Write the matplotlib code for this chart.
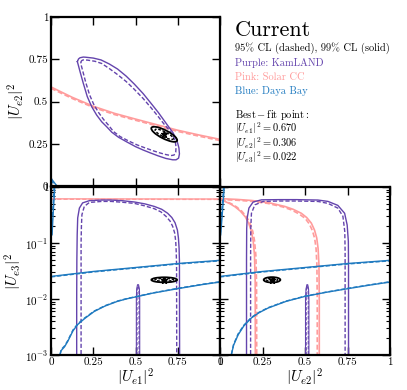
import numpy as np
import matplotlib
matplotlib.use("Agg")
import matplotlib.pyplot as plt
from matplotlib.patches import Ellipse

plt.rcParams['font.family'] = ['cmr10', 'DejaVu Serif']
plt.rcParams['mathtext.fontset'] = 'cm'
plt.rcParams['axes.formatter.use_mathtext'] = True
plt.rcParams['axes.unicode_minus'] = False

PURPLE = '#6444ad'
PINK = '#ff9c9c'
BLUE = '#1f7ac0'

# ---------------- data ----------------
best_fit = {'Ue1': 0.670, 'Ue2': 0.306, 'Ue3': 0.022}

lin_ticks = [0, 0.25, 0.5, 0.75, 1]
lin_ticklabels = ['0', '0.25', '0.5', '0.75', '1']
log_ticks = [1e-3, 1e-2, 1e-1, 1]
log_ticklabels = [r'$10^{-3}$', r'$10^{-2}$', r'$10^{-1}$', '1']

# Top-left panel: |Ue1|^2 vs |Ue2|^2
kl12_99_x = [0.156, 0.163, 0.172, 0.191, 0.205, 0.25, 0.296, 0.345, 0.394, 0.445, 0.493, 0.545, 0.592, 0.635,
             0.671, 0.70, 0.722, 0.745, 0.757, 0.760, 0.755, 0.740, 0.72, 0.68, 0.635, 0.59, 0.545, 0.50,
             0.45, 0.40, 0.36, 0.33, 0.30, 0.27, 0.241, 0.215, 0.191, 0.172, 0.163, 0.156]
kl12_99_y = [0.736, 0.752, 0.759, 0.763, 0.762, 0.757, 0.746, 0.722, 0.692, 0.65, 0.603, 0.547, 0.489, 0.435,
             0.385, 0.345, 0.315, 0.27, 0.225, 0.19, 0.165, 0.155, 0.155, 0.163, 0.178, 0.195, 0.213, 0.233,
             0.26, 0.288, 0.318, 0.35, 0.38, 0.42, 0.469, 0.528, 0.608, 0.676, 0.71, 0.736]
kl12_95_x = [0.176, 0.182, 0.19, 0.215, 0.26, 0.30, 0.345, 0.394, 0.445, 0.493, 0.545, 0.592, 0.635, 0.67,
             0.70, 0.722, 0.735, 0.740, 0.738, 0.728, 0.71, 0.68, 0.64, 0.60, 0.55, 0.51, 0.46, 0.41, 0.37,
             0.34, 0.31, 0.28, 0.252, 0.228, 0.205, 0.188, 0.18, 0.176]
kl12_95_y = [0.733, 0.742, 0.746, 0.745, 0.738, 0.725, 0.695, 0.659, 0.618, 0.572, 0.518, 0.463, 0.41, 0.365,
             0.33, 0.297, 0.265, 0.23, 0.2, 0.183, 0.18, 0.186, 0.197, 0.21, 0.228, 0.243, 0.266, 0.292, 0.322,
             0.36, 0.395, 0.437, 0.485, 0.54, 0.615, 0.68, 0.71, 0.733]
sol12_x = [0, 0.125, 0.25, 0.375, 0.5, 0.625, 0.75, 0.875, 1]
sol12_99_y = [0.586, 0.525, 0.472, 0.430, 0.396, 0.363, 0.330, 0.302, 0.276]
sol12_95_y = [0.578, 0.518, 0.465, 0.423, 0.389, 0.356, 0.323, 0.295, 0.269]
db12_99_x = [0, 0.012, 0.025, 0.036]
db12_99_y = [0.045, 0.03, 0.013, 0]
db12_95_x = [0, 0.01, 0.02, 0.028]
db12_95_y = [0.035, 0.022, 0.01, 0]

# Bottom-left panel: |Ue1|^2 vs |Ue3|^2
kl13_99_x = [0.152, 0.152, 0.153, 0.155, 0.158, 0.168, 0.187, 0.227, 0.30, 0.355, 0.42, 0.493, 0.555, 0.611,
             0.655, 0.69, 0.715, 0.734, 0.748, 0.754, 0.758, 0.760, 0.761]
kl13_99_y = [0.0008, 0.01, 0.05, 0.14, 0.28, 0.42, 0.52, 0.57, 0.585, 0.585, 0.57, 0.54, 0.50, 0.45,
             0.40, 0.34, 0.285, 0.23, 0.17, 0.123, 0.08, 0.047, 0.0008]
kl13_95_x = [0.178, 0.178, 0.178, 0.180, 0.183, 0.197, 0.227, 0.30, 0.355, 0.42, 0.493, 0.555, 0.611, 0.65,
             0.68, 0.705, 0.72, 0.732, 0.738, 0.741, 0.743, 0.744]
kl13_95_y = [0.0008, 0.01, 0.1, 0.2, 0.32, 0.45, 0.53, 0.553, 0.553, 0.535, 0.51, 0.46, 0.41, 0.36,
             0.30, 0.245, 0.198, 0.15, 0.107, 0.07, 0.04, 0.0008]
kl13_spike99_x = [0.505, 0.505, 0.507, 0.512, 0.518, 0.523, 0.525, 0.525]
kl13_spike95_x = [0.509, 0.509, 0.510, 0.513, 0.517, 0.520, 0.521, 0.521]
spike99_y = [0.0008, 0.01, 0.015, 0.018, 0.018, 0.015, 0.01, 0.0008]
spike95_y = [0.0008, 0.011, 0.015, 0.017, 0.017, 0.015, 0.011, 0.0008]
sol13_x = [0, 0.5, 1]
sol13_99_y = [0.615, 0.612, 0.61]
sol13_95_y = [0.605, 0.602, 0.60]
db_up_x = [0, 0.25, 0.5, 0.75, 1]
db13_up99_y = [0.0253, 0.031, 0.0365, 0.043, 0.049]
db13_up95_y = [0.0248, 0.0304, 0.0358, 0.0422, 0.048]
db13_lo_x = [0.045, 0.06, 0.08, 0.099, 0.13, 0.158, 0.2, 0.256, 0.32, 0.394, 0.45, 0.513, 0.6, 0.75, 0.9, 1.0]
db13_lo99_y = [0.0008, 0.0012, 0.0014, 0.00175, 0.0027, 0.0035, 0.0045, 0.006, 0.0075, 0.0091, 0.0101,
               0.0111, 0.0127, 0.0153, 0.0182, 0.0201]
db13_lo95_y = [0.0008, 0.00125, 0.00145, 0.0018, 0.0028, 0.0036, 0.0046, 0.0061, 0.0076, 0.0092, 0.0102,
               0.0112, 0.0128, 0.0155, 0.0184, 0.0203]
db13_edge99_x = [0.022, 0.018, 0.013, 0.009, 0.006]
db13_edge95_x = [0.018, 0.014, 0.010, 0.006, 0.003]
db_edge_y = [1.0, 0.6, 0.35, 0.2, 0.14]

# Bottom-right panel: |Ue2|^2 vs |Ue3|^2
kl23_99_x = [0.156, 0.156, 0.157, 0.160, 0.170, 0.195, 0.244, 0.35, 0.45, 0.576, 0.635, 0.693, 0.733, 0.748,
             0.755, 0.756, 0.756]
kl23_99_y = [0.0008, 0.05, 0.18, 0.28, 0.42, 0.54, 0.59, 0.595, 0.595, 0.585, 0.553, 0.47, 0.34, 0.21,
             0.107, 0.04, 0.0008]
kl23_95_x = [0.18, 0.18, 0.181, 0.185, 0.205, 0.254, 0.35, 0.45, 0.576, 0.635, 0.693, 0.723, 0.734, 0.736, 0.736]
kl23_95_y = [0.0008, 0.05, 0.185, 0.34, 0.48, 0.553, 0.562, 0.562, 0.552, 0.51, 0.42, 0.30, 0.16, 0.07, 0.0008]
kl23_spike99_x = [0.503, 0.503, 0.506, 0.511, 0.516, 0.521, 0.523, 0.523]
kl23_spike95_x = [0.507, 0.507, 0.508, 0.511, 0.515, 0.518, 0.519, 0.519]
sol23_out99_x = [0, 0.1, 0.185, 0.28, 0.381, 0.43, 0.478, 0.51, 0.537, 0.556, 0.569, 0.577, 0.582, 0.584, 0.584]
sol23_out99_y = [0.62, 0.60, 0.575, 0.53, 0.45, 0.40, 0.34, 0.285, 0.227, 0.17, 0.123, 0.08, 0.041, 0.01, 0.0008]
sol23_out95_x = [0, 0.1, 0.185, 0.28, 0.37, 0.42, 0.465, 0.50, 0.525, 0.544, 0.557, 0.565, 0.570, 0.572, 0.572]
sol23_out95_y = [0.60, 0.58, 0.555, 0.51, 0.44, 0.39, 0.33, 0.277, 0.22, 0.165, 0.12, 0.08, 0.041, 0.01, 0.0008]
sol23_in99_x = [0, 0.03, 0.06, 0.09, 0.12, 0.15, 0.17, 0.185, 0.195, 0.203, 0.207, 0.208]
sol23_in95_x = [0.008, 0.038, 0.068, 0.098, 0.128, 0.158, 0.178, 0.193, 0.203, 0.211, 0.215, 0.216]
sol23_in_y = [0.6, 0.55, 0.5, 0.44, 0.37, 0.29, 0.22, 0.16, 0.11, 0.06, 0.02, 0.0008]
db23_lo_x = [0.059, 0.08, 0.107, 0.14, 0.185, 0.23, 0.283, 0.39, 0.498, 0.62, 0.752, 0.88, 1.0]
db23_lo99_y = [0.0008, 0.0015, 0.0023, 0.0033, 0.0046, 0.0057, 0.0069, 0.0091, 0.0111, 0.0131, 0.0153,
               0.0177, 0.0201]
db23_lo95_y = [0.0008, 0.00155, 0.0024, 0.0034, 0.0047, 0.0058, 0.007, 0.0092, 0.0112, 0.0132, 0.0155,
               0.0179, 0.0203]
db23_up99_y = [0.0253, 0.031, 0.0365, 0.043, 0.049]
db23_up95_y = [0.0248, 0.0304, 0.0358, 0.0422, 0.048]
db23_edge99_x = [0.025, 0.02, 0.014, 0.008, 0.004]
db23_edge95_x = [0.021, 0.016, 0.010, 0.005, 0.001]

# best-fit ellipse sizes (axes fractions) and tilt
ell_tl = dict(w99=0.17, h99=0.05, w95=0.12, h95=0.03, ang=-27)
ell_bl = dict(w99=0.152, h99=0.03, w95=0.11, h95=0.016, ang=0)
ell_br = dict(w99=0.098, h99=0.032, w95=0.066, h95=0.017, ang=0)

# ---------------- figure ----------------
fig = plt.figure(figsize=(4.07, 3.90), dpi=100)
W, H = 407.0, 390.0
ax_tl = fig.add_axes([51 / W, (H - 186) / H, 169 / W, 169 / H])
ax_bl = fig.add_axes([51 / W, (H - 355) / H, 169 / W, 168 / H])
ax_br = fig.add_axes([220 / W, (H - 355) / H, 170 / W, 168 / H])

LW = 1.0
DASH = (0, (3.0, 1.5))


def pair(ax, x99, y99, x95, y95, color, lw=LW):
    ax.plot(x99, y99, color=color, lw=lw, ls='-', solid_joinstyle='round')
    ax.plot(x95, y95, color=color, lw=lw, ls=DASH)


def best(ax, x, y, e):
    c = (ax.transData + ax.transAxes.inverted()).transform((x, y))
    ax.add_patch(Ellipse(c, e['w99'], e['h99'], angle=e['ang'], transform=ax.transAxes,
                         fill=False, ec='black', lw=1.3, zorder=5))
    ax.add_patch(Ellipse(c, e['w95'], e['h95'], angle=e['ang'], transform=ax.transAxes,
                         fill=False, ec='black', lw=1.0, ls=(0, (2, 1.2)), zorder=5))
    ax.plot([x], [y], marker='*', color='black', ms=5, zorder=6)


def style(ax):
    for s in ax.spines.values():
        s.set_linewidth(1.6)
    ax.tick_params(which='major', direction='in', top=True, right=True, length=6, width=1.0,
                   labelsize=8, pad=2)
    ax.tick_params(which='minor', direction='in', top=True, right=True, length=3, width=0.8)


# top-left
ax = ax_tl
ax.set_xlim(0, 1)
ax.set_ylim(0, 1)
pair(ax, sol12_x, sol12_99_y, sol12_x, sol12_95_y, PINK, lw=1.2)
pair(ax, kl12_99_x, kl12_99_y, kl12_95_x, kl12_95_y, PURPLE)
pair(ax, db12_99_x, db12_99_y, db12_95_x, db12_95_y, BLUE)
best(ax, best_fit['Ue1'], best_fit['Ue2'], ell_tl)
ax.set_xticks(lin_ticks)
ax.set_xticklabels([])
ax.set_yticks(lin_ticks)
ax.set_yticklabels(lin_ticklabels)
ax.set_ylabel(r'$|U_{e2}|^2$', fontsize=11, labelpad=1)
style(ax)

# bottom-left
ax = ax_bl
ax.set_xlim(0, 1)
ax.set_yscale('log')
ax.set_ylim(1e-3, 1)
pair(ax, sol13_x, sol13_99_y, sol13_x, sol13_95_y, PINK)
pair(ax, kl13_99_x, kl13_99_y, kl13_95_x, kl13_95_y, PURPLE)
pair(ax, kl13_spike99_x, spike99_y, kl13_spike95_x, spike95_y, PURPLE, lw=0.8)
pair(ax, db_up_x, db13_up99_y, db_up_x, db13_up95_y, BLUE)
pair(ax, db13_lo_x, db13_lo99_y, db13_lo_x, db13_lo95_y, BLUE)
pair(ax, db13_edge99_x, db_edge_y, db13_edge95_x, db_edge_y, BLUE)
best(ax, best_fit['Ue1'], best_fit['Ue3'], ell_bl)
ax.set_xticks(lin_ticks)
ax.set_xticklabels(lin_ticklabels)
ax.set_yticks(log_ticks)
ax.set_yticklabels(log_ticklabels)
ax.set_xlabel(r'$|U_{e1}|^2$', fontsize=11, labelpad=0)
ax.set_ylabel(r'$|U_{e3}|^2$', fontsize=11, labelpad=1)
style(ax)

# bottom-right
ax = ax_br
ax.set_xlim(0, 1)
ax.set_yscale('log')
ax.set_ylim(1e-3, 1)
pair(ax, sol23_out99_x, sol23_out99_y, sol23_out95_x, sol23_out95_y, PINK, lw=1.2)
pair(ax, sol23_in99_x, sol23_in_y, sol23_in95_x, sol23_in_y, PINK, lw=1.2)
pair(ax, kl23_99_x, kl23_99_y, kl23_95_x, kl23_95_y, PURPLE)
pair(ax, kl23_spike99_x, spike99_y, kl23_spike95_x, spike95_y, PURPLE, lw=0.8)
pair(ax, db_up_x, db23_up99_y, db_up_x, db23_up95_y, BLUE)
pair(ax, db23_lo_x, db23_lo99_y, db23_lo_x, db23_lo95_y, BLUE)
pair(ax, db23_edge99_x, db_edge_y, db23_edge95_x, db_edge_y, BLUE)
best(ax, best_fit['Ue2'], best_fit['Ue3'], ell_br)
ax.set_xticks(lin_ticks)
ax.set_xticklabels(lin_ticklabels)
ax.set_yticks(log_ticks)
ax.set_yticklabels([])
ax.set_xlabel(r'$|U_{e2}|^2$', fontsize=11, labelpad=0)
style(ax)

# text block
def ftext(px, py, s, **kw):
    fig.text(px / W, (H - py) / H, s, va='baseline', ha='left', **kw)

ftext(235, 36.5, 'Current', fontsize=16)
ftext(235, 50.5, '95% CL (dashed), 99% CL (solid)', fontsize=7.5)
ftext(235, 65.5, 'Purple: KamLAND', fontsize=7.5, color=PURPLE)
ftext(235, 80, 'Pink: Solar CC', fontsize=7.5, color=PINK)
ftext(235, 94.3, 'Blue: Daya Bay', fontsize=7.5, color=BLUE)
ftext(235, 118.3, r'$\mathrm{Best-fit\ point:}$', fontsize=7.5)
ftext(235, 132.5, r'$|U_{e1}|^2=%.3f$' % best_fit['Ue1'], fontsize=7.5)
ftext(235, 146.7, r'$|U_{e2}|^2=%.3f$' % best_fit['Ue2'], fontsize=7.5)
ftext(235, 160.8, r'$|U_{e3}|^2=%.3f$' % best_fit['Ue3'], fontsize=7.5)

fig.savefig('out.png', dpi=100)
